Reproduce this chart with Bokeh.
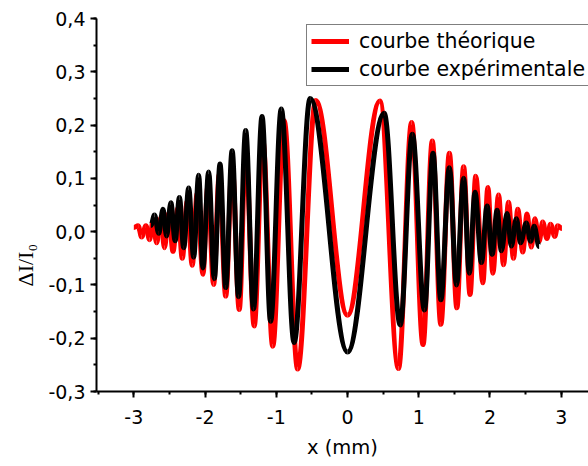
import numpy as np
from bokeh.plotting import figure
from bokeh.models import (FixedTicker, CustomJSTickFormatter, Legend, LegendItem,
                          Title, ColumnDataSource)
from bokeh.embed import file_html
from bokeh.resources import INLINE

# ---- data: extrema of each curve (x in mm, y = dI/I0) ----
red_x = [-3.0, -2.94, -2.89, -2.83, -2.78, -2.73, -2.68, -2.62, -2.57, -2.51,
         -2.45, -2.38, -2.32, -2.25, -2.18, -2.11, -2.03, -1.96, -1.88, -1.80,
         -1.71, -1.62, -1.52, -1.43, -1.31, -1.19, -1.05, -0.89, -0.70, -0.445,
         0.0, 0.454, 0.715, 0.90, 1.06, 1.19, 1.31, 1.43, 1.535, 1.63,
         1.72, 1.80, 1.90, 1.97, 2.04, 2.12, 2.19, 2.26, 2.33, 2.39,
         2.46, 2.52, 2.58, 2.63, 2.69, 2.74, 2.80, 2.85, 2.91, 2.95, 3.01]
red_y = [0.008, 0.011, -0.010, 0.011, -0.015, 0.019, -0.021, 0.026, -0.030, 0.035,
         -0.037, 0.044, -0.050, 0.057, -0.063, 0.072, -0.080, 0.086, -0.099, 0.107,
         -0.121, 0.125, -0.146, 0.150, -0.177, 0.172, -0.215, 0.208, -0.258, 0.246,
         -0.157, 0.245, -0.257, 0.205, -0.212, 0.170, -0.174, 0.147, -0.143, 0.122,
         -0.118, 0.104, -0.096, 0.083, -0.078, 0.069, -0.062, 0.055, -0.050, 0.042,
         -0.038, 0.033, -0.029, 0.024, -0.018, 0.018, -0.013, 0.014, -0.009, 0.011, 0.006]

black_x = [-2.76, -2.71, -2.65, -2.59, -2.54, -2.48, -2.42, -2.36, -2.30, -2.23,
           -2.16, -2.09, -2.03, -1.95, -1.87, -1.79, -1.71, -1.62, -1.53, -1.43,
           -1.32, -1.20, -1.08, -0.93, -0.75, -0.525, 0.0, 0.515, 0.74, 0.91,
           1.08, 1.20, 1.31, 1.43, 1.53, 1.63, 1.71, 1.79, 1.88, 1.96,
           2.03, 2.10, 2.16, 2.24, 2.30, 2.37, 2.43, 2.51, 2.57, 2.62, 2.69]
black_y = [0.012, 0.031, -0.003, 0.042, -0.008, 0.054, -0.017, 0.064, -0.030, 0.082,
           -0.048, 0.106, -0.068, 0.112, -0.088, 0.127, -0.105, 0.152, -0.122, 0.190,
           -0.145, 0.216, -0.168, 0.230, -0.208, 0.250, -0.226, 0.222, -0.175, 0.183,
           -0.147, 0.147, -0.128, 0.120, -0.100, 0.100, -0.078, 0.074, -0.058, 0.048,
           -0.043, 0.040, -0.036, 0.034, -0.027, 0.024, -0.021, 0.016, -0.018, 0.010, -0.028]

x_ticks = [-3, -2, -1, 0, 1, 2, 3]
y_ticks = [-0.3, -0.2, -0.1, 0.0, 0.1, 0.2, 0.3, 0.4]
legend_labels = ["courbe théorique", "courbe expérimentale"]
x_title = "x (mm)"
y_title = "ΔI/I₀"

FONT = "DejaVu Sans"

p = figure(width=588, height=466, x_range=(-3.524, 3.383), y_range=(-0.3, 0.4),
           output_backend="svg", toolbar_location=None,
           min_border_left=96, min_border_right=0, min_border_top=18, min_border_bottom=74)
p.outline_line_color = None
p.xgrid.visible = False
p.ygrid.visible = False
p.background_fill_color = "white"
p.border_fill_color = "white"


def segments(xs, ys, k=0.3642):
    xs = np.asarray(xs, dtype=float)
    ys = np.asarray(ys, dtype=float)
    x0, x1 = xs[:-1], xs[1:]
    y0, y1 = ys[:-1], ys[1:]
    dx = x1 - x0
    return dict(x0=x0, y0=y0, x1=x1, y1=y1,
                cx0=x0 + k * dx, cy0=y0, cx1=x1 - k * dx, cy1=y1)


red_src = ColumnDataSource(segments(red_x, red_y))
blk_src = ColumnDataSource(segments(black_x, black_y))
r_red = p.bezier(x0="x0", y0="y0", x1="x1", y1="y1", cx0="cx0", cy0="cy0", cx1="cx1", cy1="cy1",
                 source=red_src, line_color="#ff0000", line_width=5)
r_blk = p.bezier(x0="x0", y0="y0", x1="x1", y1="y1", cx0="cx0", cy0="cy0", cx1="cx1", cy1="cy1",
                 source=blk_src, line_color="#000000", line_width=5)

legend = Legend(items=[LegendItem(label=legend_labels[0], renderers=[r_red]),
                       LegendItem(label=legend_labels[1], renderers=[r_blk])],
                location=(210, 305), padding=4, spacing=4, margin=0,
                glyph_width=38, glyph_height=24, label_standoff=10,
                label_text_font=FONT, label_text_font_size="20.5px",
                label_text_color="black",
                border_line_color="black", border_line_width=1,
                background_fill_color="white", background_fill_alpha=1.0)
p.add_layout(legend, "center")

# axes
for ax in (p.xaxis[0], p.yaxis[0]):
    ax.axis_line_width = 2
    ax.axis_line_color = "black"
    ax.major_tick_line_width = 2
    ax.minor_tick_line_width = 2
    ax.major_tick_in = 0
    ax.major_tick_out = 6
    ax.minor_tick_in = 0
    ax.minor_tick_out = 3
    ax.major_label_text_font = FONT
    ax.major_label_text_font_size = "19px"
    ax.major_label_text_color = "black"

p.xaxis.ticker = FixedTicker(ticks=x_ticks, minor_ticks=list(np.arange(-3.5, 3.51, 0.5)))
p.yaxis.ticker = FixedTicker(ticks=y_ticks, minor_ticks=list(np.round(np.arange(-0.3, 0.401, 0.05), 3)))
p.xaxis.formatter = CustomJSTickFormatter(code="return tick.toFixed(0);")
p.yaxis.formatter = CustomJSTickFormatter(code="return tick.toFixed(1).replace('.', ',');")
p.xaxis.major_label_standoff = 12
p.yaxis.major_label_standoff = 5

# axis titles as side titles (can be offset along the axis)
p.add_layout(Title(text=x_title, align="center", offset=18, standoff=15,
                   text_font=FONT, text_font_size="19.5px", text_font_style="normal",
                   text_color="black"), "below")
p.add_layout(Title(text=y_title, align="left", offset=105, standoff=16,
                   text_font="Liberation Serif", text_font_size="22px", text_font_style="normal",
                   text_color="black"), "left")

open("out.html", "w").write(file_html(p, INLINE))
